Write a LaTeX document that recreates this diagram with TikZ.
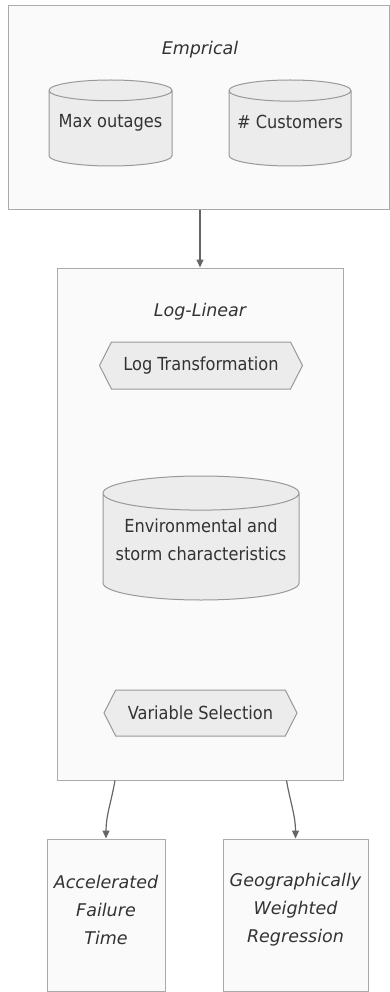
\documentclass[tikz,border=0pt]{standalone}
\usepackage{fontspec}
\setmainfont{DejaVu Sans Condensed}
\newfontfamily\headfont{DejaVu Sans}
\usetikzlibrary{shapes.geometric,shapes.symbols,arrows.meta}

\definecolor{groupfill}{HTML}{FAFAFA}
\definecolor{groupline}{HTML}{AAAAAA}
\definecolor{nodefill}{HTML}{ECECEC}
\definecolor{nodeline}{HTML}{999999}
\definecolor{edgeline}{HTML}{666666}
\definecolor{ink}{HTML}{333333}

\tikzstyle{group} = [draw=groupline, fill=groupfill, line width=1pt, inner sep=0pt]
\tikzstyle{heading} = [text=ink, align=center, font=\headfont\fontsize{17.5}{28}\selectfont\itshape]
\tikzstyle{store} = [cylinder, shape border rotate=90, aspect=0.2, anchor=shape center,
    draw=nodeline, fill=nodefill, line width=1pt, inner sep=0pt, text=ink, align=center,
    text depth=14pt, font=\fontsize{18}{28}\selectfont]
\tikzstyle{stage} = [signal, signal to=west and east, signal pointer angle=126, draw=nodeline,
    fill=nodefill, line width=1pt, inner sep=0pt, text=ink, font=\fontsize{18}{28}\selectfont]
\tikzstyle{flow} = [draw=edgeline, line width=1.2pt, -{Triangle[length=8pt,width=7pt]}]

\begin{document}
\begin{tikzpicture}[x=1pt, y=1pt]
\useasboundingbox (0,0) rectangle (390,-992);

\node[group, minimum width=381, minimum height=204] (emp) at (198.5,-108) {};
\node[heading] (empT) at (200,-50) {Emprical};
\node[store, minimum width=123, minimum height=86] (maxout) at (110.5,-123) {Max outages};
\node[store, minimum width=122, minimum height=86] (cust) at (290,-123) {\# Customers};

\node[group, minimum width=286, minimum height=512] (ll) at (200,-524) {};
\node[heading] (llT) at (200,-312) {Log-Linear};
\node[stage, minimum width=203, minimum height=47] (logtr) at (201,-365.5) {Log Transformation};
\node[store, minimum width=196, minimum height=124] (env) at (201,-538)
    {Environmental and\\storm characteristics};
\node[stage, minimum width=193, minimum height=46] (varsel) at (200.5,-713) {Variable Selection};

\node[group, minimum width=118, minimum height=152] (aft) at (106,-915) {};
\node[heading] (aftT) at (106,-910) {Accelerated\\Failure\\Time};
\node[group, minimum width=145, minimum height=152] (gwr) at (295.5,-915) {};
\node[heading] (gwrT) at (295.5,-910) {Geographically\\Weighted\\Regression};

\draw[flow] (ll.north |- emp.south) -- (ll.north);
\draw[flow] ([xshift=9pt]ll.south -| aft.north) to[out=-100, in=90] (aft.north);
\draw[flow] ([xshift=-9pt]ll.south -| gwr.north) to[out=-80, in=90] (gwr.north);
\end{tikzpicture}
\end{document}
